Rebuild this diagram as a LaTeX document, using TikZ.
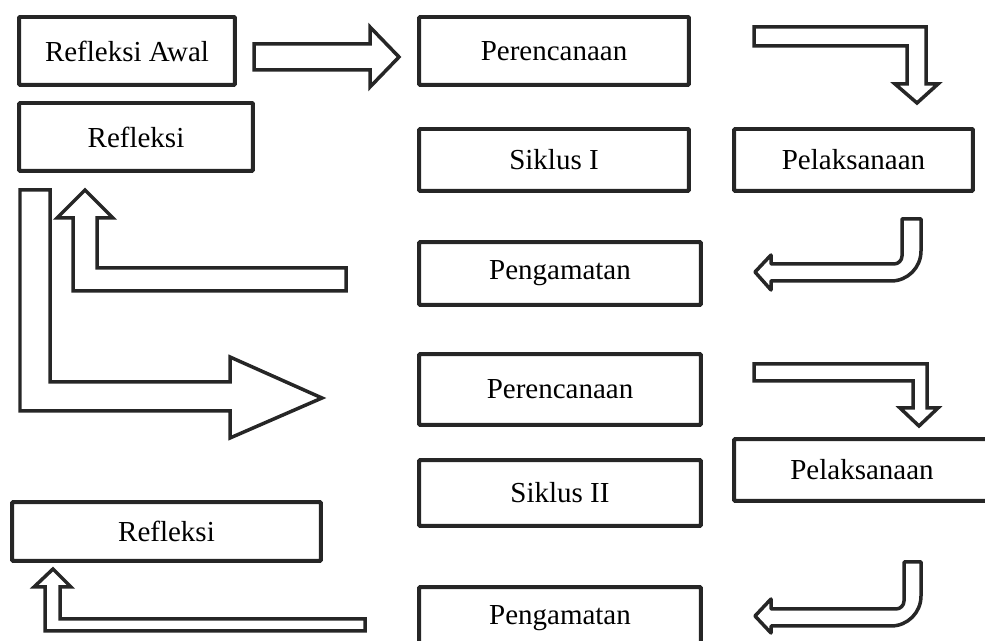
\documentclass[tikz,border=0pt]{standalone}
\usepackage{fontspec}
\setmainfont{Liberation Serif}
\usepackage{tikz}

\begin{document}
\begin{tikzpicture}[x=0.02cm, y=-0.02cm,
  box/.style={draw=black!85, line width=0.08cm, rounded corners=0.6pt, inner sep=0pt,
    font=\fontsize{16.5}{18}\selectfont},
  blockarrow/.style={draw=black!85, line width=0.07cm, line join=miter},
  roundarrow/.style={draw=black!85, line width=0.07cm, line join=round}]

\clip (0,0) rectangle (985,641);

% kotak kiri
\node[box, minimum width=4.32cm, minimum height=1.36cm] (awal)  at (127,51)    {Refleksi Awal};
\node[box, minimum width=4.68cm, minimum height=1.36cm] (refl1) at (136,137)   {Refleksi};
\node[box, minimum width=6.18cm, minimum height=1.18cm] (refl2) at (166.5,531.5) {Refleksi};

% siklus I
\node[box, minimum width=5.4cm,  minimum height=1.36cm] (renc1)  at (554,51)    {Perencanaan};
\node[box, minimum width=5.4cm,  minimum height=1.24cm] (sik1)   at (554,160)   {Siklus I};
\node[box, minimum width=4.78cm, minimum height=1.24cm] (laks1)  at (853.5,160) {Pelaksanaan};
\node[box, minimum width=5.64cm, minimum height=1.26cm] (amat1)  at (560,273.5) {Pengamatan};

% siklus II
\node[box, minimum width=5.64cm, minimum height=1.42cm] (renc2)  at (560,389.5) {Perencanaan};
\node[box, minimum width=5.64cm, minimum height=1.32cm] (sik2)   at (560,493)   {Siklus II};
\node[box, minimum width=5.12cm, minimum height=1.24cm] (laks2)  at (862,470)   {Pelaksanaan};
\node[box, minimum width=5.64cm, minimum height=1.24cm] (amat2)  at (560,618)   {Pengamatan};

% refleksi awal -> perencanaan
\draw[blockarrow] (254,44) -- (370,44) -- (370,27) -- (399,57) -- (370,87) -- (370,70) -- (254,70) -- cycle;
% perencanaan -> pelaksanaan (I)
\draw[blockarrow] (754,27) -- (926,27) -- (926,84) -- (938,84) -- (917,103) -- (895,84) -- (907,84) -- (907,46) -- (754,46) -- cycle;
% pelaksanaan -> pengamatan (I)
\draw[roundarrow] (902,219) -- (921,219) -- (921,251) .. controls (921,267.6) and (907.6,281) .. (891,281)
  -- (771,281) -- (771,290) -- (755,272) -- (771,255) -- (771,264) -- (894,264)
  .. controls (898.4,264) and (902,260.4) .. (902,256) -- cycle;
% pengamatan -> refleksi
\draw[blockarrow] (346,268) -- (97,268) -- (97,218) -- (113,218) -- (85,190) -- (57,218) -- (73,218) -- (73,291) -- (346,291) -- cycle;
% refleksi -> perencanaan (II)
\draw[blockarrow] (20,190) -- (50,190) -- (50,382) -- (230,382) -- (230,357) -- (322,398) -- (230,438) -- (230,411) -- (20,411) -- cycle;
% perencanaan -> pelaksanaan (II)
\draw[blockarrow] (754,364) -- (927,364) -- (927,408) -- (938,408) -- (919,426) -- (900,408) -- (913,408) -- (913,381) -- (754,381) -- cycle;
% pelaksanaan -> pengamatan (II)
\draw[roundarrow] (904,562) -- (921,562) -- (921,596) .. controls (921,612.6) and (907.6,626) .. (891,626)
  -- (771,626) -- (771,633) -- (755,616) -- (771,599) -- (771,609) -- (896,609)
  .. controls (900.4,609) and (904,605.4) .. (904,601) -- cycle;
% pengamatan -> refleksi (II)
\draw[blockarrow] (365,619) -- (60,619) -- (60,587) -- (71,587) -- (53,569) -- (34,587) -- (45,587) -- (45,631) -- (365,631) -- cycle;

\end{tikzpicture}
\end{document}
